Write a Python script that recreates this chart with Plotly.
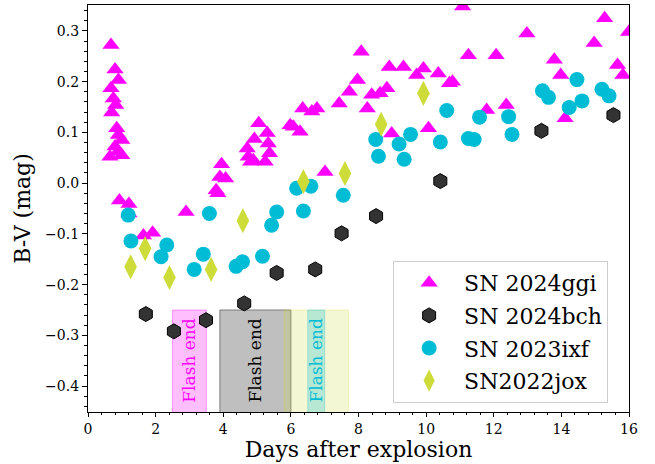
import plotly.graph_objects as go

# B-V colour evolution of four type II supernovae
ggi_days = [0.68, 0.80, 0.90, 0.68, 0.75, 0.82, 0.70, 0.85, 0.90, 1.00, 0.80, 0.65, 0.88, 1.00,
            0.93, 1.21, 1.21, 1.64, 1.91, 2.90, 3.95, 3.90, 4.07, 3.79, 3.84,
            5.05, 5.30, 4.92, 4.71, 5.33, 4.74, 4.81, 5.37, 5.24, 4.89,
            6.07, 6.27, 6.35, 6.62, 6.77, 5.98, 7.01, 7.43, 7.73, 7.97, 8.08,
            8.26, 8.39, 8.64, 8.84, 8.91, 9.33, 9.72, 9.92, 10.36, 10.69, 8.98, 10.07,
            10.78, 11.08, 11.25, 12.07, 12.98, 15.28, 15.99, 14.97, 13.79, 13.98,
            15.66, 15.82, 11.79, 12.37, 14.11]
ggi_bv = [0.272, 0.224, 0.203, 0.187, 0.167, 0.154, 0.139, 0.108, 0.095, 0.085, 0.072, 0.052, 0.062, 0.055,
          -0.034, -0.041, -0.060, -0.103, -0.098, -0.057, 0.037, 0.012, 0.009, -0.014, -0.020,
          0.118, 0.099, 0.087, 0.068, 0.078, 0.052, 0.042, 0.059, 0.042, 0.045,
          0.111, 0.101, 0.147, 0.141, 0.147, 0.114, 0.022, 0.157, 0.180, 0.203, 0.259,
          0.147, 0.174, 0.177, 0.187, 0.229, 0.229, 0.213, 0.226, 0.216, 0.197, 0.098, 0.108,
          0.200, 0.348, 0.252, 0.252, 0.295, 0.325, 0.298, 0.276, 0.243, 0.213,
          0.233, 0.213, 0.144, 0.154, 0.128]

bch_days = [1.71, 2.54, 3.49, 4.62, 5.58, 6.72, 7.50, 8.52, 10.42, 13.41, 15.54]
bch_bv = [-0.258, -0.292, -0.270, -0.237, -0.177, -0.170, -0.099, -0.065, 0.004, 0.103, 0.134]

ixf_days = [1.19, 1.27, 2.33, 2.16, 3.14, 3.41, 3.59, 4.38, 4.57, 5.16, 5.43, 5.58,
            6.37, 6.17, 6.59, 7.55, 8.51, 8.59, 9.20, 9.35, 9.54, 10.42, 10.61,
            11.25, 11.42, 11.58, 12.44, 12.54, 13.44, 13.62, 14.23, 14.61, 14.46, 15.20, 15.41]
ixf_bv = [-0.063, -0.114, -0.122, -0.145, -0.170, -0.140, -0.060, -0.164, -0.155, -0.144, -0.083, -0.057,
          -0.055, -0.010, -0.006, -0.024, 0.086, 0.053, 0.077, 0.047, 0.096, 0.081, 0.143,
          0.088, 0.086, 0.130, 0.131, 0.096, 0.182, 0.169, 0.149, 0.162, 0.204, 0.185, 0.172]

jox_days = [1.26, 1.69, 2.41, 3.64, 4.58, 6.37, 7.60, 8.67, 9.92]
jox_bv = [-0.165, -0.129, -0.186, -0.170, -0.074, 0.003, 0.019, 0.116, 0.177]

# Epochs at which the flash-ionisation features disappear (start, end)
flash_ggi = (2.5, 3.5)
flash_bch = (3.9, 6.0)
flash_jox = (5.8, 7.7)
flash_ixf = (6.5, 7.0)

FONT = "DejaVu Serif"
MAGENTA = "#ff00ff"
DARK = "#333333"
CYAN = "#00bcd4"
LIME = "#cddc39"

fig = go.Figure()

series = [
    ("SN 2024ggi", ggi_days, ggi_bv, dict(symbol="triangle-up", size=15, color=MAGENTA)),
    ("SN 2024bch", bch_days, bch_bv, dict(symbol="hexagon", size=15, color=DARK,
                                           line=dict(color="black", width=1))),
    ("SN 2023ixf", ixf_days, ixf_bv, dict(symbol="circle", size=15, color=CYAN)),
    ("SN2022jox", jox_days, jox_bv, dict(symbol="diamond-tall", size=18, color=LIME)),
]
for name, xs, ys, mk in series:
    fig.add_trace(go.Scatter(x=xs, y=ys, mode="markers", name=name, marker=mk,
                             legendgroup=name))

# Shaded flash-end windows
y_top = -0.25
y_bot = -0.46
spans = [
    (flash_ggi, "rgba(255,0,255,0.25)", "rgba(255,0,255,0.35)"),
    (flash_bch, "rgba(128,128,128,0.5)", "rgba(100,100,100,0.8)"),
    (flash_jox, "rgba(205,220,57,0.22)", "rgba(205,220,57,0.3)"),
    (flash_ixf, "rgba(0,188,212,0.25)", "rgba(0,188,212,0.3)"),
]
for (x0, x1), fill, edge in spans:
    fig.add_shape(type="rect", xref="x", yref="y", x0=x0, x1=x1, y0=y_bot, y1=y_top,
                  fillcolor=fill, line=dict(color=edge, width=1), layer="below")

labels = [
    (sum(flash_ggi) / 2, MAGENTA),
    (sum(flash_bch) / 2, "black"),
    (sum(flash_ixf) / 2, CYAN),
]
for xc, col in labels:
    fig.add_annotation(x=xc, y=-0.349, text="Flash end", textangle=-90, showarrow=False,
                       font=dict(family=FONT, size=17, color=col))

fig.update_layout(
    width=655, height=464,
    margin=dict(l=88, r=26, t=5, b=52),
    paper_bgcolor="white", plot_bgcolor="white",
    font=dict(family=FONT, color="black"),
    showlegend=True,
    legend=dict(x=0.564, y=0.371, xanchor="left", yanchor="top",
                bgcolor="white", bordercolor="#cccccc", borderwidth=1,
                font=dict(family=FONT, size=22), tracegroupgap=1,
                itemwidth=60),
)
fig.update_xaxes(
    range=[0, 16], dtick=2, tick0=0, ticks="outside", ticklen=4, tickwidth=1,
    tickcolor="black", showline=True, linecolor="black", linewidth=1.2, mirror=True,
    showgrid=False, zeroline=False, tickfont=dict(family=FONT, size=14),
    minor=dict(dtick=0.4, ticks="outside", ticklen=2, tickcolor="black"),
    title=dict(text="Days after explosion", font=dict(family=FONT, size=22), standoff=3),
)
fig.update_yaxes(
    range=[-0.451, 0.351], dtick=0.1, tick0=0, tickformat=".1f", ticks="outside",
    ticklen=5, tickwidth=1, tickcolor="black", showline=True, linecolor="black",
    linewidth=1.2, mirror=True, showgrid=False, zeroline=False,
    tickfont=dict(family=FONT, size=14),
    minor=dict(dtick=0.02, ticks="outside", ticklen=3, tickcolor="black"),
    title=dict(text="B-V (mag)", font=dict(family=FONT, size=22), standoff=8),
)

fig.write_html("out.html")
